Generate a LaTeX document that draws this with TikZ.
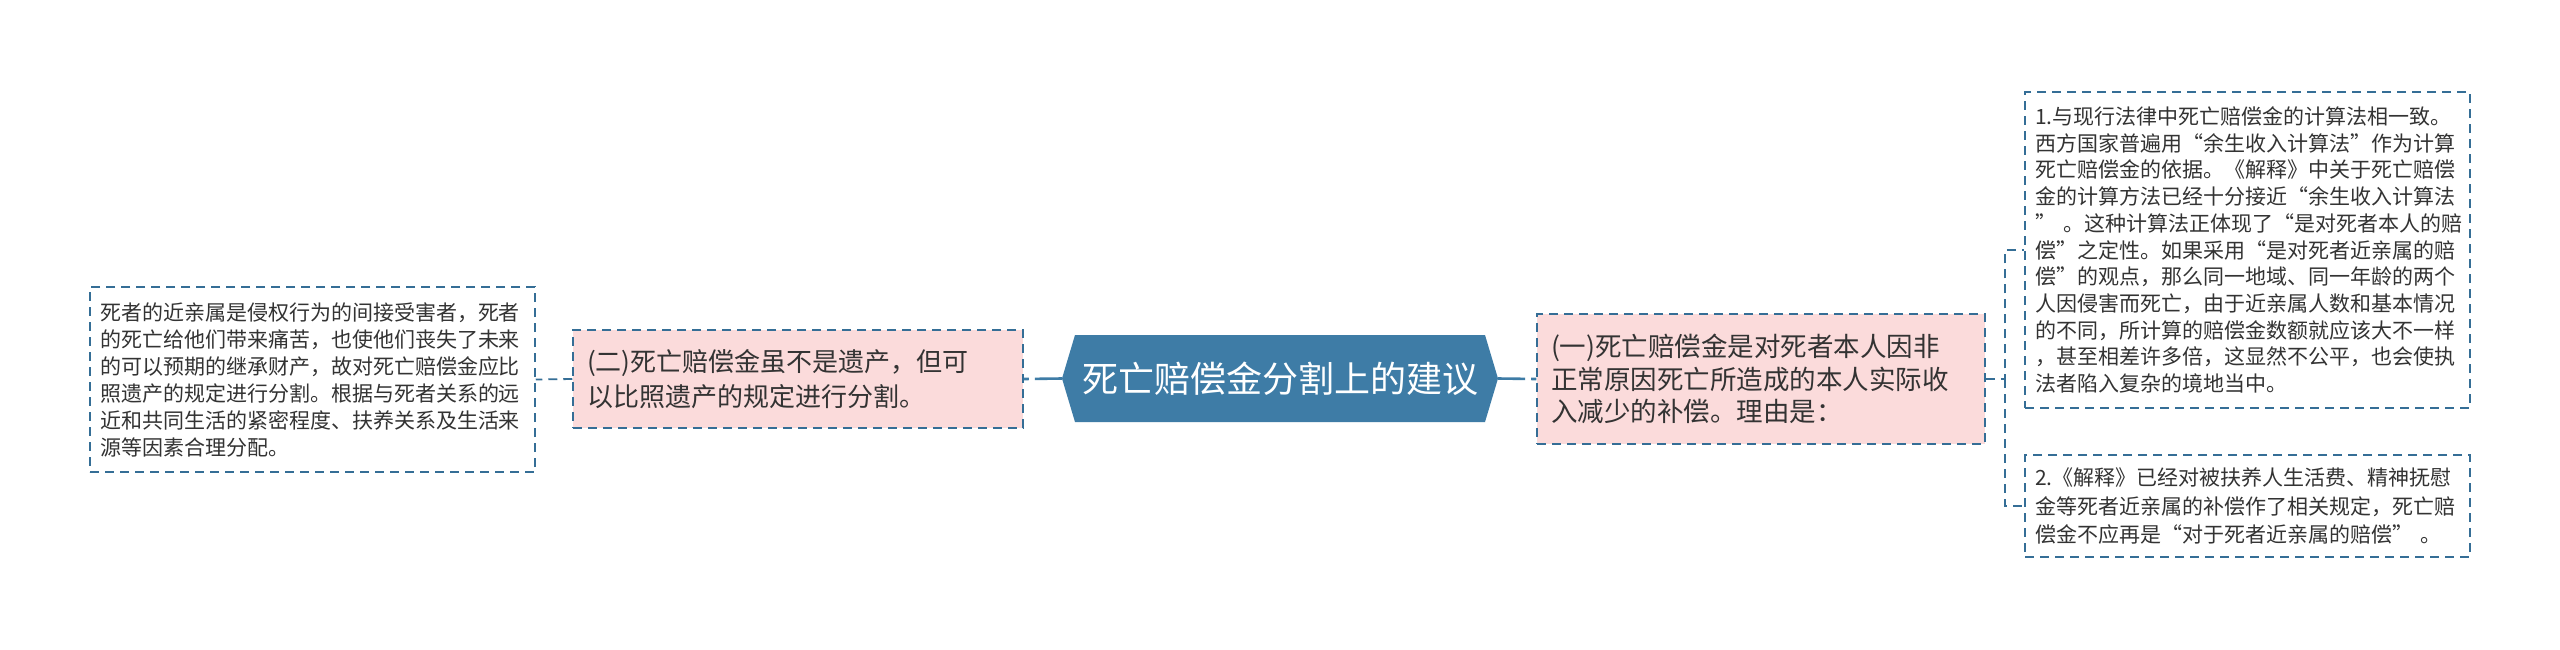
\documentclass[tikz,border=0pt]{standalone}
\usepackage{fontspec}
\setmainfont{Noto Sans CJK SC}
\newfontfamily\cjk{Noto Sans CJK SC}
\definecolor{hexblue}{HTML}{3E7CA6}
\definecolor{lineblue}{HTML}{356E96}
\definecolor{pinkfill}{HTML}{FBDBDB}
\definecolor{txt}{HTML}{333333}
\tikzset{
  leafbox/.style={draw=lineblue, line width=1.5pt, dash pattern=on 9pt off 6pt, fill=white,
    align=left, text=txt, inner xsep=10pt, inner ysep=0pt, font=\cjk\fontsize{21}{27}\selectfont},
  branchbox/.style={draw=lineblue, line width=1.5pt, dash pattern=on 9pt off 6pt, fill=pinkfill,
    align=left, text=txt, inner xsep=14pt, inner ysep=0pt},
  dconn/.style={draw=lineblue, line width=1.8pt, dash pattern=on 9pt off 6pt},
  sconn/.style={draw=hexblue, line width=2.6pt, dash pattern=on 27pt off 6pt},
}
\begin{document}
\begin{tikzpicture}[x=1pt,y=-1pt]
\useasboundingbox[fill=white] (0,0) rectangle (2560,649);

% central hexagon
\fill[hexblue] (1062,378.5) -- (1075,335) -- (1485,335) -- (1498,378.5) -- (1485,422) -- (1075,422) -- cycle;
\node[text=white, font=\cjk\fontsize{36}{40}\selectfont, inner sep=0pt, minimum width=436pt, minimum height=87pt] (hex) at (1280,378.5) {死亡赔偿金分割上的建议};

% left branch
\node[branchbox, minimum width=450pt, minimum height=98pt, text width=422pt, font=\cjk\fontsize{26}{35}\selectfont] (midL) at (798,379)
 {(二)死亡赔偿金虽不是遗产，但可\\以比照遗产的规定进行分割。};

\node[leafbox, minimum width=445pt, minimum height=185pt, text width=425pt] (leftbox) at (312.5,379.5)
 {死者的近亲属是侵权行为的间接受害者，死者\\的死亡给他们带来痛苦，也使他们丧失了未来\\的可以预期的继承财产，故对死亡赔偿金应比\\照遗产的规定进行分割。根据与死者关系的远\\近和共同生活的紧密程度、扶养关系及生活来\\源等因素合理分配。};

% right branch
\node[branchbox, minimum width=448pt, minimum height=130pt, text width=420pt, font=\cjk\fontsize{26.5}{32.5}\selectfont] (midR) at (1761,379)
 {(一)死亡赔偿金是对死者本人因非\\正常原因死亡所造成的本人实际收\\入减少的补偿。理由是：};

\node[leafbox, minimum width=445pt, minimum height=316pt, text width=425pt, font=\cjk\fontsize{21}{26.7}\selectfont] (topR) at (2247.5,250)
 {1.与现行法律中死亡赔偿金的计算法相一致。\\西方国家普遍用“余生收入计算法”作为计算\\死亡赔偿金的依据。《解释》中关于死亡赔偿\\金的计算方法已经十分接近“余生收入计算法\\” 。这种计算法正体现了“是对死者本人的赔\\偿”之定性。如果采用“是对死者近亲属的赔\\偿”的观点，那么同一地域、同一年龄的两个\\人因侵害而死亡，由于近亲属人数和基本情况\\的不同，所计算的赔偿金数额就应该大不一样\\，甚至相差许多倍，这显然不公平，也会使执\\法者陷入复杂的境地当中。};

\node[leafbox, minimum width=445pt, minimum height=102pt, text width=425pt, font=\cjk\fontsize{21}{28.5}\selectfont] (botR) at (2247.5,506)
 {2.《解释》已经对被扶养人生活费、精神抚慰\\金等死者近亲属的补偿作了相关规定，死亡赔\\偿金不应再是“对于死者近亲属的赔偿” 。};

% connectors
\coordinate (fork) at (2005,379);
\draw[sconn] (hex.east) -- (midR.west);
\draw[sconn] (hex.west) -- (midL.east);
\draw[dconn] (midL.west) -- (leftbox.east);
\draw[dconn] (midR.east) -- (fork) |- (topR.west);
\draw[dconn] (fork) |- (botR.west);
\end{tikzpicture}
\end{document}
